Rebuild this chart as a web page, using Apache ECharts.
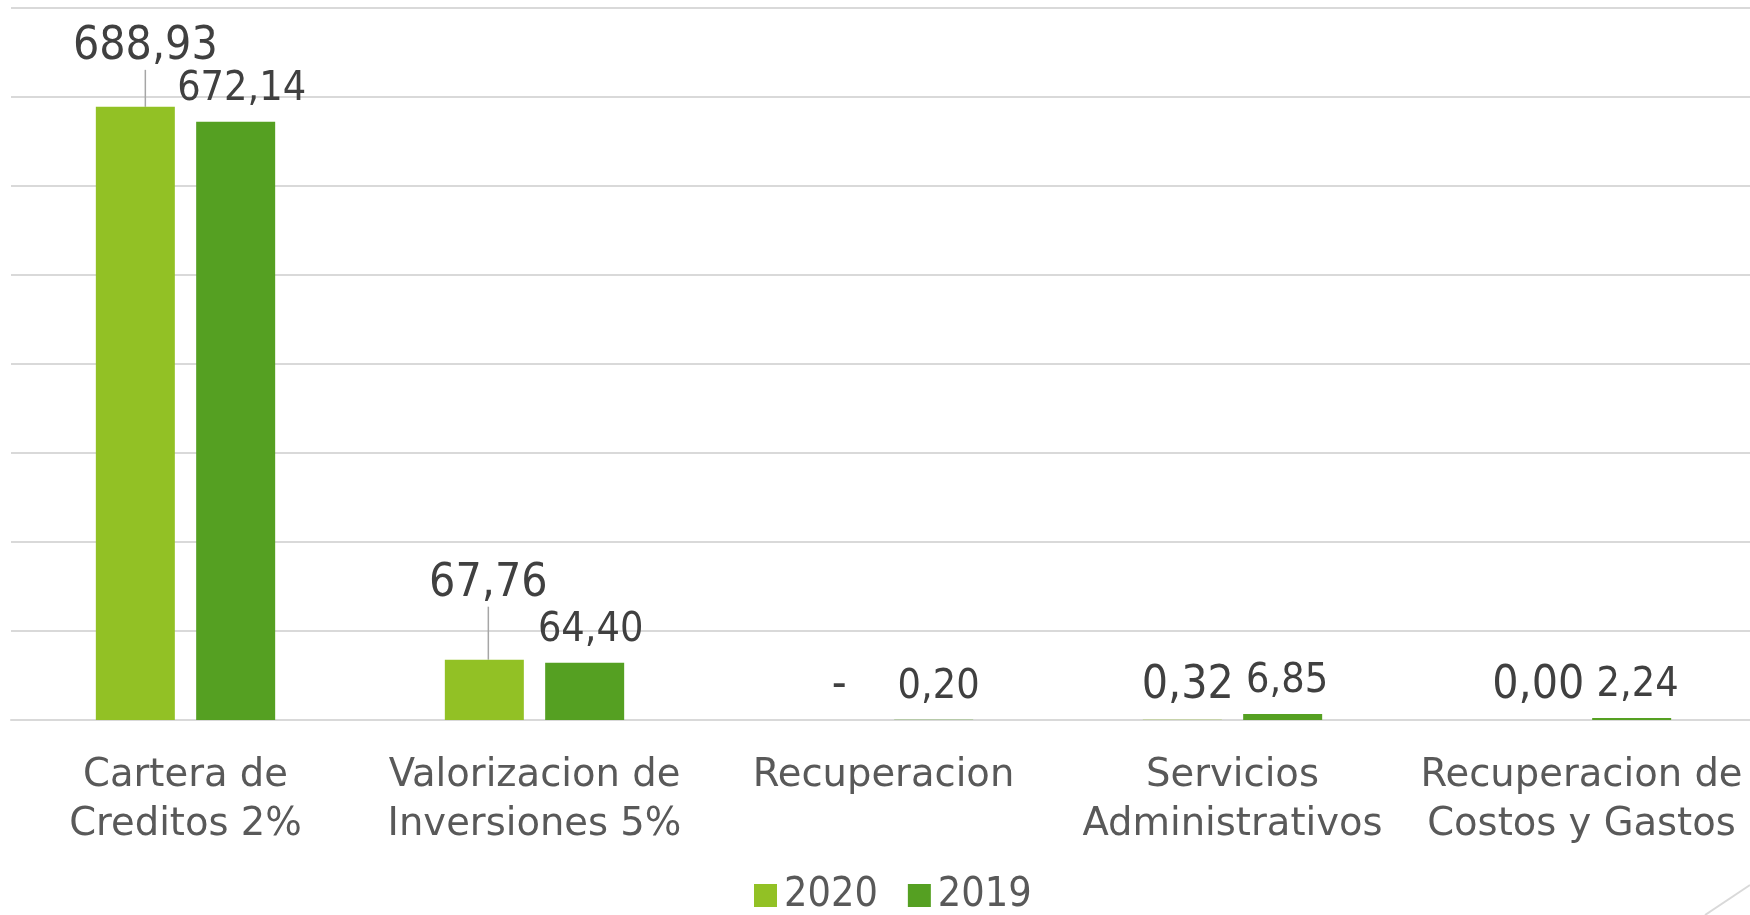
<!DOCTYPE html>
<html>
<head>
<meta charset="utf-8">
<title>Ingresos 2020 vs 2019</title>
<script src="https://cdn.jsdelivr.net/npm/echarts@6/dist/echarts.min.js"></script>
<style>
  html, body { margin: 0; padding: 0; background: #fff; overflow: hidden; }
  #main { width: 1760px; height: 915px; }
</style>
</head>
<body>
<div id="main"></div>
<script>
'use strict';

// datos
const categories = [
  'Cartera de\nCreditos 2%',
  'Valorizacion de\nInversiones 5%',
  'Recuperacion',
  'Servicios\nAdministrativos',
  'Recuperacion de\nCostos y Gastos'
];
const seriesNames = ['2020', '2019'];
const values2020 = [688.93, 67.76, 0, 0.32, 0.004];
const values2019 = [672.14, 64.40, 0.20, 6.85, 2.24];

// ajustes de etiquetas (las de 2020 grandes llevan linea guia)
const liftY2020 = [-26, -42, 0, 0, 0];
const liftX2020 = [10, 4, 6, 5.5, 7];
const liftX2019 = [6, 6, 5, 4.5, 6];

const FONT = '"DejaVu Sans Condensed", "DejaVu Sans", sans-serif';

function fmt(p) {
  if (p.value === 0) return '-';
  return p.value.toFixed(2).replace('.', ',');
}

let data2020 = values2020.map(function (v, i) {
  return {value: v, labelLine: {show: liftY2020[i] !== 0}};
});

let chart = echarts.init(document.getElementById('main'));
chart.setOption({
  backgroundColor: '#ffffff',
  animation: false,
  textStyle: {fontFamily: FONT},
  grid: {left: 11, width: 1745, top: 8, bottom: 195},
  legend: {
    data: seriesNames,
    left: 754,
    top: 875,
    padding: 0,
    itemWidth: 23,
    itemHeight: 23,
    itemGap: 30,
    icon: 'rect',
    textStyle: {fontFamily: FONT, fontSize: 41, color: '#595959', padding: [0, 0, 0, 2]}
  },
  xAxis: {
    type: 'category',
    data: categories,
    axisTick: {show: false},
    axisLine: {lineStyle: {color: '#d9d9d9', width: 2}},
    axisLabel: {
      interval: 0,
      margin: 31,
      fontFamily: '"DejaVu Sans", sans-serif',
      fontSize: 38.5,
      lineHeight: 49,
      color: '#595959'
    }
  },
  yAxis: {
    type: 'value',
    min: 0,
    max: 800,
    interval: 100,
    axisLabel: {show: false},
    axisLine: {show: false},
    axisTick: {show: false},
    splitLine: {lineStyle: {color: '#d9d9d9', width: 2}}
  },
  series: [
    {
      name: seriesNames[0],
      type: 'bar',
      data: data2020,
      barWidth: 79,
      barGap: '27%',
      itemStyle: {color: '#92c125'},
      label: {
        show: true,
        position: 'top',
        distance: 11,
        formatter: fmt,
        fontFamily: FONT,
        fontSize: 46,
        color: '#404040'
      },
      labelLine: {show: true, lineStyle: {color: '#a6a6a6', width: 1.5}},
      labelLayout: function (params) {
        return {dx: liftX2020[params.dataIndex], dy: liftY2020[params.dataIndex]};
      }
    },
    {
      name: seriesNames[1],
      type: 'bar',
      data: values2019,
      barWidth: 79,
      itemStyle: {color: '#55a022'},
      label: {
        show: true,
        position: 'top',
        distance: 12,
        formatter: fmt,
        fontFamily: FONT,
        fontSize: 41,
        color: '#404040'
      },
      labelLine: {show: false},
      labelLayout: function (params) {
        return {dx: liftX2019[params.dataIndex]};
      }
    }
  ],
  graphic: [{
    type: 'line',
    shape: {x1: 1705, y1: 915, x2: 1750, y2: 885},
    style: {stroke: '#d9d9d9', lineWidth: 2}
  }]
});
</script>
</body>
</html>
